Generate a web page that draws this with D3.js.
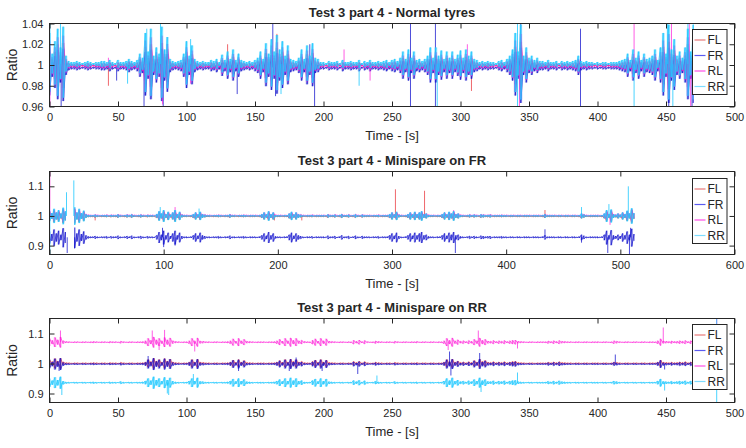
<!DOCTYPE html>
<html>
<head>
<meta charset="utf-8">
<script src="https://cdn.jsdelivr.net/npm/d3@7"></script>
<style>
  body { margin: 0; background: #fff; }
  text { font-family: "Liberation Sans", Arial, Helvetica, sans-serif; fill: #262626; }
</style>
</head>
<body>
<svg id="fig" width="746" height="448"></svg>
<script>
// ---- Data -------------------------------------------------------------
// Wheel-speed ratio signals, summarised as half-range amplitudes (x 0.001)
// over consecutive 2 s windows; null marks missing samples.
const STEP = 2;
const SERIES = ["FL", "FR", "RL", "RR"];

// Test 3 part 4 - Normal tyres (t = 0 .. 470 s)
const env1 = [
  30,10,22,34,16,36,8,3,2,2,
  3,2,1,2,3,2,1,2,2,3,
  3,2,4,2,1,4,2,2,3,5,
  3,2,4,10,6,30,12,34,8,16,
  10,36,14,26,5,3,2,3,4,10,
  22,8,18,5,3,2,3,2,2,4,
  3,5,2,9,4,12,5,14,4,10,
  4,3,2,3,2,4,6,12,5,20,
  10,24,12,28,14,22,8,18,5,4,
  3,6,14,5,18,8,20,6,5,2,
  2,1,3,2,2,3,1,4,2,2,
  3,2,2,4,1,3,2,4,2,2,
  3,2,3,4,2,4,5,3,6,12,
  5,14,6,12,4,5,3,5,8,16,
  6,16,8,13,5,12,6,12,5,9,
  13,6,14,8,12,5,4,2,3,2,
  3,2,2,1,3,4,2,5,8,14,
  30,12,38,8,16,6,8,4,6,3,
  3,2,4,2,2,3,1,3,2,3,
  2,3,4,8,3,2,3,2,2,1,
  2,1,2,2,1,2,2,2,3,4,
  5,10,4,14,6,12,4,10,5,6,
  8,14,4,16,30,10,38,14,24,8,
  12,6,16,34,12,38
];
const base1 = [0.9995, 0.9976, 0.9995, 1.0009];
const lo1 = [0.6, 0.9, 0.85, 0.9];
const hi1 = [0.6, 0.5, 0.8, 1.0];
const spikes1 = [
  [0.3, 2, 0.96], [0.3, 3, 1.04], [8, 3, 1.04], [8.5, 1, 0.96],
  [43, 0, 0.98], [43, 2, 1.007], [49, 1, 0.985], [57, 3, 0.982],
  [69, 1, 0.96], [71, 3, 1.035], [81, 3, 1.04], [82.5, 2, 0.962], [83, 1, 0.96],
  [103, 3, 1.025], [103, 2, 0.982], [130, 0, 1.02], [137, 1, 0.972],
  [163, 1, 1.04], [166, 0, 1.03], [165, 1, 0.97], [169, 3, 0.972],
  [193.5, 1, 0.96], [190, 1, 1.02], [215, 2, 1.015], [226, 3, 0.98], [234, 2, 0.985],
  [263.5, 1, 1.04], [263.5, 1, 0.96], [281.7, 1, 1.04], [281.7, 1, 0.96], [283, 3, 0.96],
  [305, 2, 1.02], [308, 0, 0.975],
  [341.6, 3, 1.04], [341.6, 3, 0.96], [343, 2, 0.96], [344, 1, 1.04],
  [387.6, 1, 1.035], [387.6, 1, 0.96], [426.7, 2, 1.04], [426.7, 3, 0.96],
  [451, 3, 1.04], [452, 1, 0.96], [454, 2, 1.04], [455, 3, 0.96],
  [466, 3, 1.04], [467, 2, 1.04], [468, 2, 0.96], [469, 1, 0.96]
];

// Test 3 part 4 - Minispare on FR (t = 0 .. 512 s)
const env2 = [
  18,10,24,12,20,8,28,16,null,null,
  null,30,12,24,10,18,6,3,2,2,
  4,2,1,2,2,3,1,3,2,2,
  5,2,1,2,4,2,5,2,1,2,
  4,2,1,3,2,2,1,6,16,8,
  20,6,14,4,12,20,6,14,4,2,
  2,1,2,6,12,5,14,6,4,2,
  2,1,2,2,3,2,1,2,2,5,
  2,2,1,2,2,3,2,1,2,2,
  2,1,2,6,12,5,16,6,12,3,
  2,2,1,2,2,8,14,5,12,6,
  4,2,1,2,2,3,1,2,2,2,
  2,1,5,2,2,4,1,2,6,2,
  2,4,1,2,5,2,1,4,2,2,
  2,1,2,2,3,1,2,2,2,6,
  12,5,14,4,2,1,2,6,12,5,
  14,6,12,16,6,8,3,2,2,1,
  2,2,6,12,5,14,8,16,6,8,
  3,2,1,2,4,2,4,2,1,5,
  4,2,3,4,1,2,2,2,3,2,
  2,1,2,2,1,2,2,1,2,2,
  2,1,2,2,2,1,2,6,2,2,
  2,2,1,2,2,1,2,2,1,2,
  2,1,2,8,5,2,1,2,2,2,
  2,1,2,8,20,6,22,6,4,8,
  4,12,6,18,8,26,10
];
const base2 = [0.9985, 0.928, 1.002, 1.0];
const lo2 = [0.8, 1.2, 0.8, 1.0];
const hi2 = [0.8, 1.1, 0.8, 1.0];
const spikes2 = [
  [0.3, 2, 1.15], [0.3, 3, 0.87], [14.9, 3, 1.08], [15.5, 1, 0.875],
  [21.3, 3, 1.12], [22, 1, 0.89], [40, 0, 0.985],
  [97, 3, 1.03], [99, 1, 0.96], [100, 1, 0.895], [110, 2, 1.03], [110, 1, 0.9],
  [131, 3, 1.025], [197, 0, 0.985], [221, 0, 0.985],
  [303, 0, 1.09], [328.5, 0, 1.085], [354, 2, 1.02], [355.5, 1, 0.875],
  [434, 0, 1.02], [434, 1, 0.955], [466, 3, 1.03], [466, 1, 0.91],
  [489, 1, 0.875], [490, 3, 1.04], [491, 2, 0.97],
  [507, 3, 1.1], [508, 1, 0.87], [509, 1, 0.96]
];

// Test 3 part 4 - Minispare on RR (t = 0 .. 470 s)
const env3 = [
  16,8,20,10,22,6,3,2,1,2,
  2,1,2,2,1,2,3,2,1,2,
  2,1,3,2,2,1,4,2,1,2,
  2,1,2,2,3,6,16,8,22,10,
  16,6,20,10,18,6,3,2,1,2,
  2,6,16,6,18,5,4,2,2,1,
  2,2,1,2,2,3,6,14,5,16,
  6,12,4,3,2,1,2,2,2,1,
  2,2,3,6,12,5,16,6,18,8,
  16,6,8,3,2,2,8,14,5,16,
  6,14,4,3,2,1,2,2,1,2,
  2,8,4,9,3,7,2,1,2,5,
  3,2,1,2,2,1,4,2,1,2,
  2,1,2,2,3,1,2,2,1,2,
  2,1,2,2,6,16,8,18,6,10,
  4,6,3,7,4,12,6,18,8,12,
  5,4,7,3,6,4,7,3,6,8,
  9,4,3,2,1,2,2,1,2,2,
  2,2,5,3,6,3,7,4,3,2,
  2,1,2,2,1,2,2,1,2,2,
  2,1,2,2,1,2,6,4,2,1,
  2,2,1,2,2,1,2,2,1,2,
  2,2,6,14,5,4,3,5,3,4,
  6,4,7,3,6,4
];
const base3 = [1.0005, 0.998, 1.071, 0.936];
const lo3 = [0.8, 0.9, 0.8, 0.9];
const hi3 = [0.8, 0.9, 0.8, 0.9];
const spikes3 = [
  [8, 2, 1.11], [9, 3, 0.895], [7, 1, 0.975],
  [72, 1, 1.025], [75, 2, 1.11], [80, 2, 1.045], [84, 2, 1.112], [86, 3, 0.9], [87, 3, 0.895],
  [105, 3, 0.965], [106, 2, 1.04], [138, 1, 0.975], [175, 1, 0.975], [180, 1, 1.02],
  [199, 1, 0.975], [225, 1, 0.965], [239, 3, 0.96],
  [291, 2, 1.045], [292, 1, 1.04], [293, 1, 0.96], [313, 2, 1.11], [314, 1, 1.035], [315, 3, 0.905],
  [341.6, 2, 1.05], [341.6, 3, 0.97], [413, 1, 1.03],
  [448, 2, 1.12], [449, 1, 0.98], [449, 3, 0.91],
  [487, 2, 1.15], [487, 3, 1.15], [487, 3, 0.87]
];

// Axis ticks
const xTicks1 = [0, 50, 100, 150, 200, 250, 300, 350, 400, 450, 500];
const xTicks2 = [0, 100, 200, 300, 400, 500, 600];
const yTicks1 = [0.96, 0.98, 1, 1.02, 1.04];
const yTicks23 = [0.9, 1, 1.1];

// ---- Styling ----------------------------------------------------------
const COLORS = ["#e8282e", "#1212cc", "#ff1ad9", "#1ec8ff"];
const OPAC = [0.7, 0.75, 0.7, 0.8];
const FILL_OPAC = [0.25, 0.3, 0.25, 0.45];
const LEGEND_COLORS = ["#e87878", "#5a5af0", "#ff4ee6", "#7ddcff"];
const AXIS = "#262626";

const panels = [
  { title: "Test 3 part 4 - Normal tyres", env: env1, base: base1, lo: lo1, hi: hi1,
    spikes: spikes1, xDomain: [0, 500], xTicks: xTicks1, yDomain: [0.96, 1.04],
    yTicks: yTicks1, top: 23.5, bottom: 106.5, legendTop: 29.5 },
  { title: "Test 3 part 4 - Minispare on FR", env: env2, base: base2, lo: lo2, hi: hi2,
    spikes: spikes2, xDomain: [0, 600], xTicks: xTicks2, yDomain: [0.87, 1.15],
    yTicks: yTicks23, top: 171.5, bottom: 254.5, legendTop: 178.5 },
  { title: "Test 3 part 4 - Minispare on RR", env: env3, base: base3, lo: lo3, hi: hi3,
    spikes: spikes3, xDomain: [0, 500], xTicks: xTicks1, yDomain: [0.87, 1.15],
    yTicks: yTicks23, top: 318.5, bottom: 402.5, legendTop: 324.5 }
];

const LEFT = 49.5, RIGHT = 734.5;
const svg = d3.select("#fig");
const fmt = d3.format("~g");

// Low/high band of one signal, one entry per window.
function bandPoints(env, base, sLo, sHi) {
  return env.map((a, i) => a === null ? null : {
    t: i * STEP,
    lo: base - sLo * a * 1e-3,
    hi: base + sHi * a * 1e-3
  });
}

// Trace that sweeps each window from its low to its high value (or reverse).
function tracePoints(band, flip) {
  const pts = [];
  band.forEach(d => {
    if (d === null) { pts.push(null); return; }
    if (flip) pts.push([d.t, d.hi], [d.t, d.lo]);
    else pts.push([d.t, d.lo], [d.t, d.hi]);
  });
  return pts;
}

panels.forEach((p, pi) => {
  const x = d3.scaleLinear().domain(p.xDomain).range([LEFT, RIGHT]);
  const y = d3.scaleLinear().domain(p.yDomain).range([p.bottom, p.top]);
  const g = svg.append("g");

  const clipId = "clip" + pi;
  svg.append("clipPath").attr("id", clipId).append("rect")
    .attr("x", LEFT).attr("y", p.top).attr("width", RIGHT - LEFT).attr("height", p.bottom - p.top);

  const plot = g.append("g").attr("clip-path", `url(#${clipId})`);
  const area = d3.area().curve(d3.curveStep).defined(d => d !== null)
    .x(d => x(d.t)).y0(d => y(d.lo)).y1(d => y(d.hi));
  const line = d3.line().defined(d => d !== null).x(d => x(d[0])).y(d => y(d[1]));

  SERIES.forEach((s, k) => {
    const band = bandPoints(p.env, p.base[k], p.lo[k], p.hi[k]);
    plot.append("path")
      .attr("d", area(band))
      .attr("fill", COLORS[k])
      .attr("fill-opacity", FILL_OPAC[k]);
    plot.append("path")
      .attr("d", line(tracePoints(band, k % 2 === 1)))
      .attr("fill", "none")
      .attr("stroke", COLORS[k])
      .attr("stroke-opacity", OPAC[k])
      .attr("stroke-width", 0.9);
    plot.selectAll(null)
      .data(p.spikes.filter(d => d[1] === k))
      .enter().append("line")
      .attr("x1", d => x(d[0])).attr("x2", d => x(d[0]))
      .attr("y1", y(p.base[k])).attr("y2", d => y(d[2]))
      .attr("stroke", COLORS[k])
      .attr("stroke-opacity", OPAC[k])
      .attr("stroke-width", 1);
  });

  // Axes with inward ticks on all four sides
  const styleAxis = sel => {
    sel.select(".domain").remove();
    sel.selectAll(".tick line").attr("stroke", AXIS);
    sel.selectAll("text").attr("fill", AXIS).style("font-size", "11px")
      .style("font-family", '"Liberation Sans", Arial, sans-serif');
  };
  g.append("g").attr("transform", `translate(0,${p.bottom})`)
    .call(d3.axisBottom(x).tickValues(p.xTicks).tickFormat(fmt).tickSizeInner(-5).tickSizeOuter(0).tickPadding(7))
    .call(styleAxis);
  g.append("g").attr("transform", `translate(0,${p.top})`)
    .call(d3.axisTop(x).tickValues(p.xTicks).tickFormat("").tickSizeInner(-5).tickSizeOuter(0))
    .call(styleAxis);
  g.append("g").attr("transform", `translate(${LEFT},0)`)
    .call(d3.axisLeft(y).tickValues(p.yTicks).tickFormat(fmt).tickSizeInner(-5).tickSizeOuter(0).tickPadding(6))
    .call(styleAxis);
  g.append("g").attr("transform", `translate(${RIGHT},0)`)
    .call(d3.axisRight(y).tickValues(p.yTicks).tickFormat("").tickSizeInner(-5).tickSizeOuter(0))
    .call(styleAxis);

  g.append("rect")
    .attr("x", LEFT).attr("y", p.top).attr("width", RIGHT - LEFT).attr("height", p.bottom - p.top)
    .attr("fill", "none").attr("stroke", AXIS).attr("stroke-width", 1);

  // Titles and labels
  g.append("text").attr("x", (LEFT + RIGHT) / 2).attr("y", p.top - 7)
    .attr("text-anchor", "middle").style("font-size", "13px").style("font-weight", "bold")
    .text(p.title);
  g.append("text").attr("x", (LEFT + RIGHT) / 2).attr("y", p.bottom + 33)
    .attr("text-anchor", "middle").style("font-size", "13px").text("Time - [s]");
  g.append("text")
    .attr("transform", `translate(16.5,${(p.top + p.bottom) / 2}) rotate(-90)`)
    .attr("text-anchor", "middle").style("font-size", "14px").text("Ratio");

  // Legend
  const lg = g.append("g").attr("transform", `translate(692.5,${p.legendTop})`);
  lg.append("rect").attr("width", 34.5).attr("height", 65)
    .attr("fill", "#fff").attr("stroke", AXIS).attr("stroke-width", 1);
  SERIES.forEach((s, k) => {
    const yy = 10.5 + k * 15.5;
    lg.append("line").attr("x1", 2).attr("x2", 13).attr("y1", yy).attr("y2", yy)
      .attr("stroke", LEGEND_COLORS[k]).attr("stroke-width", 1.2);
    lg.append("text").attr("x", 15).attr("y", yy).attr("dy", "0.36em")
      .style("font-size", "12px").text(s);
  });
});
</script>
</body>
</html>
